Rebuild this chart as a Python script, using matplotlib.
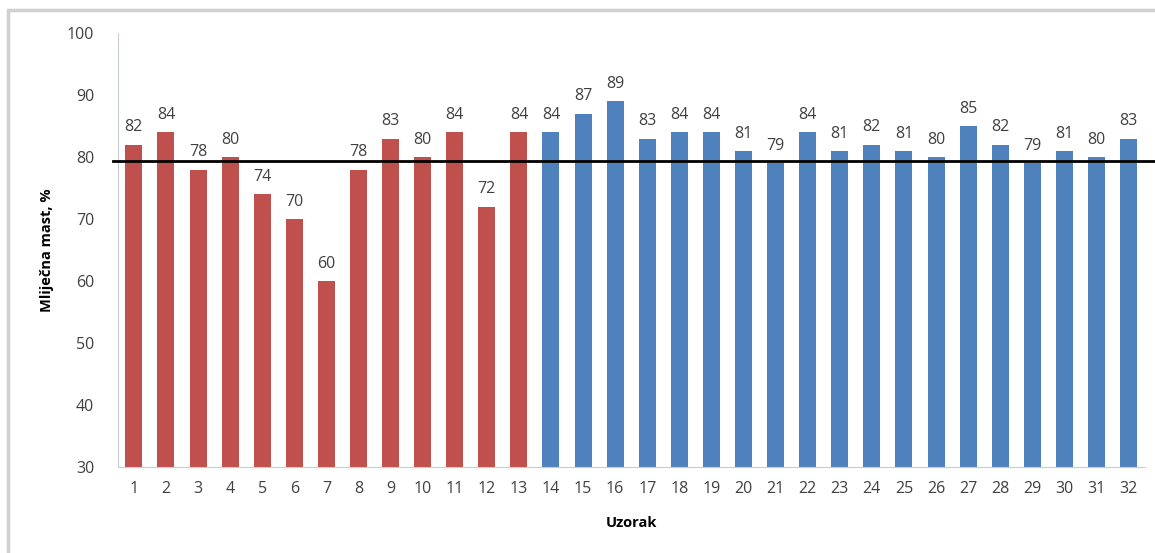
import matplotlib
matplotlib.use("Agg")
import matplotlib.pyplot as plt
from matplotlib.patches import Rectangle

samples = list(range(1, 33))
values = [82, 84, 78, 80, 74, 70, 60, 78, 83, 80, 84, 72, 84,
          84, 87, 89, 83, 84, 84, 81, 79, 84, 81, 82, 81, 80, 85, 82, 79, 81, 80, 83]
n_red = 13
ref_level = 79.4
y_ticks = [30, 40, 50, 60, 70, 80, 90, 100]

plt.rcParams['font.family'] = ['Open Sans', 'DejaVu Sans']

fig = plt.figure(figsize=(11.55, 5.53), dpi=100)
ax = fig.add_axes([0.102, 0.1555, 0.889, 0.7845])

colors = ['#C0504D' if i < n_red else '#4F81BD' for i in range(len(values))]
ax.bar(samples, [v - 30 for v in values], bottom=30, width=0.53, color=colors, zorder=2)
for x, v in zip(samples, values):
    ax.text(x, v + 1.5, str(v), ha='center', va='bottom', fontsize=11.5, color='#404040')

ax.plot([0.35, 33.0], [ref_level, ref_level], color='black', lw=2, clip_on=False, zorder=3)

ax.set_xlim(0.5, 32.5)
ax.set_ylim(30, 100)
ax.set_yticks(y_ticks)
ax.set_xticks(samples)
ax.tick_params(axis='both', length=0, labelsize=11.5, labelcolor='#404040')
ax.tick_params(axis='y', pad=17)
ax.tick_params(axis='x', pad=10)
for s in ['top', 'right']:
    ax.spines[s].set_visible(False)
ax.spines['left'].set_color('#C8CCD8')
ax.spines['bottom'].set_color('#D8C8B8')
ax.set_ylabel('Mliječna mast, %', fontsize=10.5, fontweight='bold', labelpad=9)
ax.set_xlabel('Uzorak', fontsize=10.5, fontweight='bold', labelpad=14)

fig.patches.append(Rectangle((8 / 1155, -0.1), 1.2, 1 - 10 / 553 + 0.1, transform=fig.transFigure,
                             fill=False, edgecolor='#D0D0D0', lw=2.5, zorder=0))

fig.savefig('out.png', dpi=100)
